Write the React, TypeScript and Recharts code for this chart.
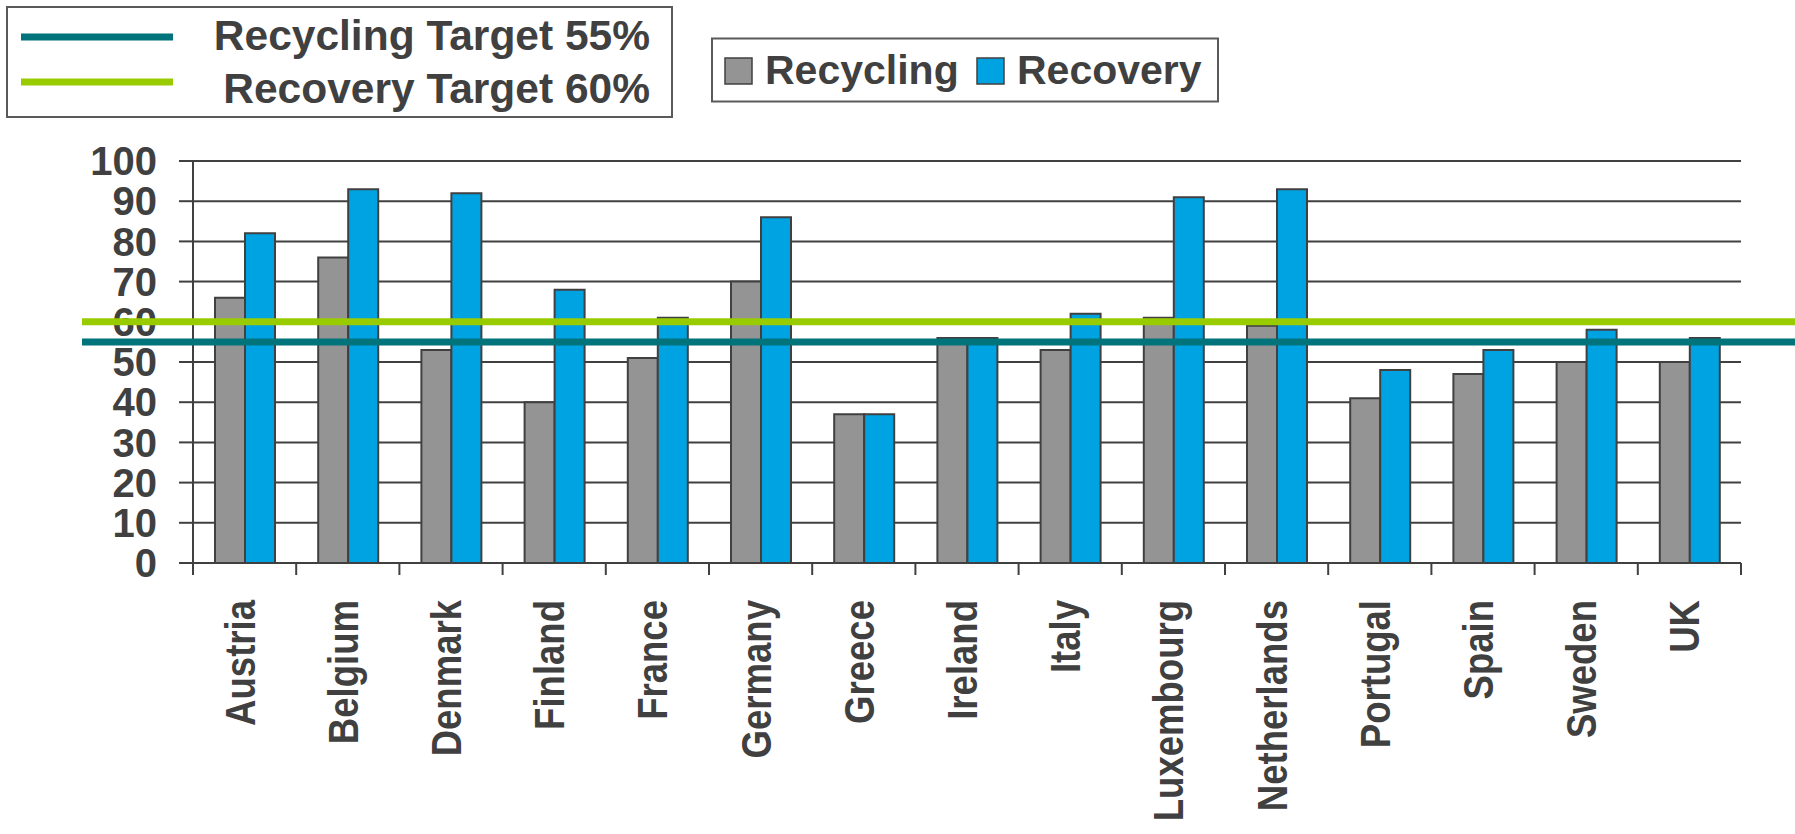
import React from 'react';
import { BarChart, Bar, XAxis, YAxis, CartesianGrid, ReferenceLine } from 'recharts';

// ---- data ----
const countries = ['Austria', 'Belgium', 'Denmark', 'Finland', 'France', 'Germany', 'Greece', 'Ireland', 'Italy', 'Luxembourg', 'Netherlands', 'Portugal', 'Spain', 'Sweden', 'UK'];
const recycling = [66, 76, 53, 40, 51, 70, 37, 56, 53, 61, 59, 41, 47, 50, 50];
const recovery = [82, 93, 92, 68, 61, 86, 37, 56, 62, 91, 93, 48, 53, 58, 56];
const yTicks = [0, 10, 20, 30, 40, 50, 60, 70, 80, 90, 100];
const seriesNames = ['Recycling', 'Recovery'];
const targetLabels = ['Recycling Target 55%', 'Recovery Target 60%'];
const targetValues = [55, 60];

// ---- styles ----
const W = 1795;
const H = 834;
const FONT = "'Liberation Sans', Arial, Helvetica, sans-serif";
const INK = '#404040';
const SERIES_COLORS = ['#949494', '#00A3E2'];
const TARGET_COLORS = ['#00737B', '#99CC00'];
const MARGIN = { top: 161, right: 54, bottom: 0, left: 0 };
const Y_AXIS_W = 193;
const X_AXIS_H = 271;
const X_TICK_SIZE = 12;
const X_TICK_MARGIN = 25;
const PLOT_W = W - MARGIN.left - MARGIN.right - Y_AXIS_W;
const BAND = PLOT_W / countries.length;
const REF_LINE_START = 82;

const data = countries.map((c, i) => ({ country: c, [seriesNames[0]]: recycling[i], [seriesNames[1]]: recovery[i] }));

function CountryTick(props: any) {
  const { x, y, payload, index } = props;
  const axisY = y - X_TICK_SIZE - X_TICK_MARGIN;
  const half = BAND / 2;
  return (
    <g>
      <line x1={x - half} x2={x - half} y1={axisY} y2={axisY + X_TICK_SIZE} stroke={INK} strokeWidth={2} />
      {index === countries.length - 1 && (
        <line x1={x + half} x2={x + half} y1={axisY} y2={axisY + X_TICK_SIZE} stroke={INK} strokeWidth={2} />
      )}
      <text
        transform={`translate(${x + 10},${y}) rotate(-90) scale(0.87,1)`}
        textAnchor="end"
        fontSize={42}
        fontWeight="bold"
        fill={INK}
        fontFamily={FONT}
      >
        {payload.value}
      </text>
    </g>
  );
}

function TargetLegend() {
  return (
    <svg width={700} height={130} style={{ position: 'absolute', left: 0, top: 0 }}>
      <rect x={7} y={7} width={665} height={110} fill="#fff" stroke="#5a5a5a" strokeWidth={2} />
      {targetLabels.map((t, i) => (
        <g key={t}>
          <line x1={21} x2={173} y1={37 + i * 45} y2={37 + i * 45} stroke={TARGET_COLORS[i]} strokeWidth={7} />
          <text x={650} y={50 + i * 53} textAnchor="end" fontSize={42.5} fontWeight="bold" fill={INK} fontFamily={FONT}>
            {t}
          </text>
        </g>
      ))}
    </svg>
  );
}

function SeriesLegend() {
  const itemX = [725, 977];
  return (
    <svg width={W} height={130} style={{ position: 'absolute', left: 0, top: 0, pointerEvents: 'none' }}>
      <rect x={712} y={38.5} width={506} height={63} fill="#fff" stroke="#5a5a5a" strokeWidth={2} />
      {seriesNames.map((s, i) => (
        <g key={s}>
          <rect x={itemX[i]} y={58} width={27} height={26} fill={SERIES_COLORS[i]} stroke={INK} strokeWidth={1.5} />
          <text x={itemX[i] + 40} y={84} fontSize={41} fontWeight="bold" fill={INK} fontFamily={FONT}>
            {s}
          </text>
        </g>
      ))}
    </svg>
  );
}

export default function App() {
  return (
    <div style={{ position: 'absolute', left: 0, top: 0, width: W, height: H, background: '#fff', overflow: 'hidden' }}>
      <div style={{ position: 'absolute', left: 0, top: 0 }}>
        <BarChart
          width={W}
          height={H}
          data={data}
          margin={MARGIN}
          barCategoryGap={22}
          barGap={0}
        >
          <CartesianGrid vertical={false} stroke={INK} strokeWidth={2} />
          <XAxis
            dataKey="country"
            height={X_AXIS_H}
            interval={0}
            tickLine={false}
            tickSize={X_TICK_SIZE}
            tickMargin={X_TICK_MARGIN}
            axisLine={{ stroke: INK, strokeWidth: 2 }}
            tick={<CountryTick />}
          />
          <YAxis
            width={Y_AXIS_W}
            domain={[0, 100]}
            ticks={yTicks}
            interval={0}
            tickSize={14}
            tickMargin={22}
            axisLine={{ stroke: INK, strokeWidth: 2 }}
            tickLine={{ stroke: INK, strokeWidth: 2 }}
            tick={{ fontSize: 40, fontWeight: 'bold', fill: INK, fontFamily: FONT }}
          />
          <YAxis
            yAxisId="right"
            orientation="right"
            width={0}
            domain={[0, 100]}
            tick={false}
            tickLine={false}
            axisLine={{ stroke: INK, strokeWidth: 2 }}
          />
          {seriesNames.map((s, i) => (
            <Bar key={s} dataKey={s} fill={SERIES_COLORS[i]} stroke={INK} strokeWidth={2} isAnimationActive={false} />
          ))}
          {targetValues.map((v, i) => (
            <ReferenceLine
              key={v}
              y={v}
              stroke={TARGET_COLORS[i]}
              strokeWidth={7}
              zIndex={2000}
              shape={(p: any) => (
                <line x1={REF_LINE_START} x2={W} y1={p.y1} y2={p.y2} stroke={TARGET_COLORS[i]} strokeWidth={7} />
              )}
            />
          ))}
        </BarChart>
      </div>
      <TargetLegend />
      <SeriesLegend />
    </div>
  );
}
